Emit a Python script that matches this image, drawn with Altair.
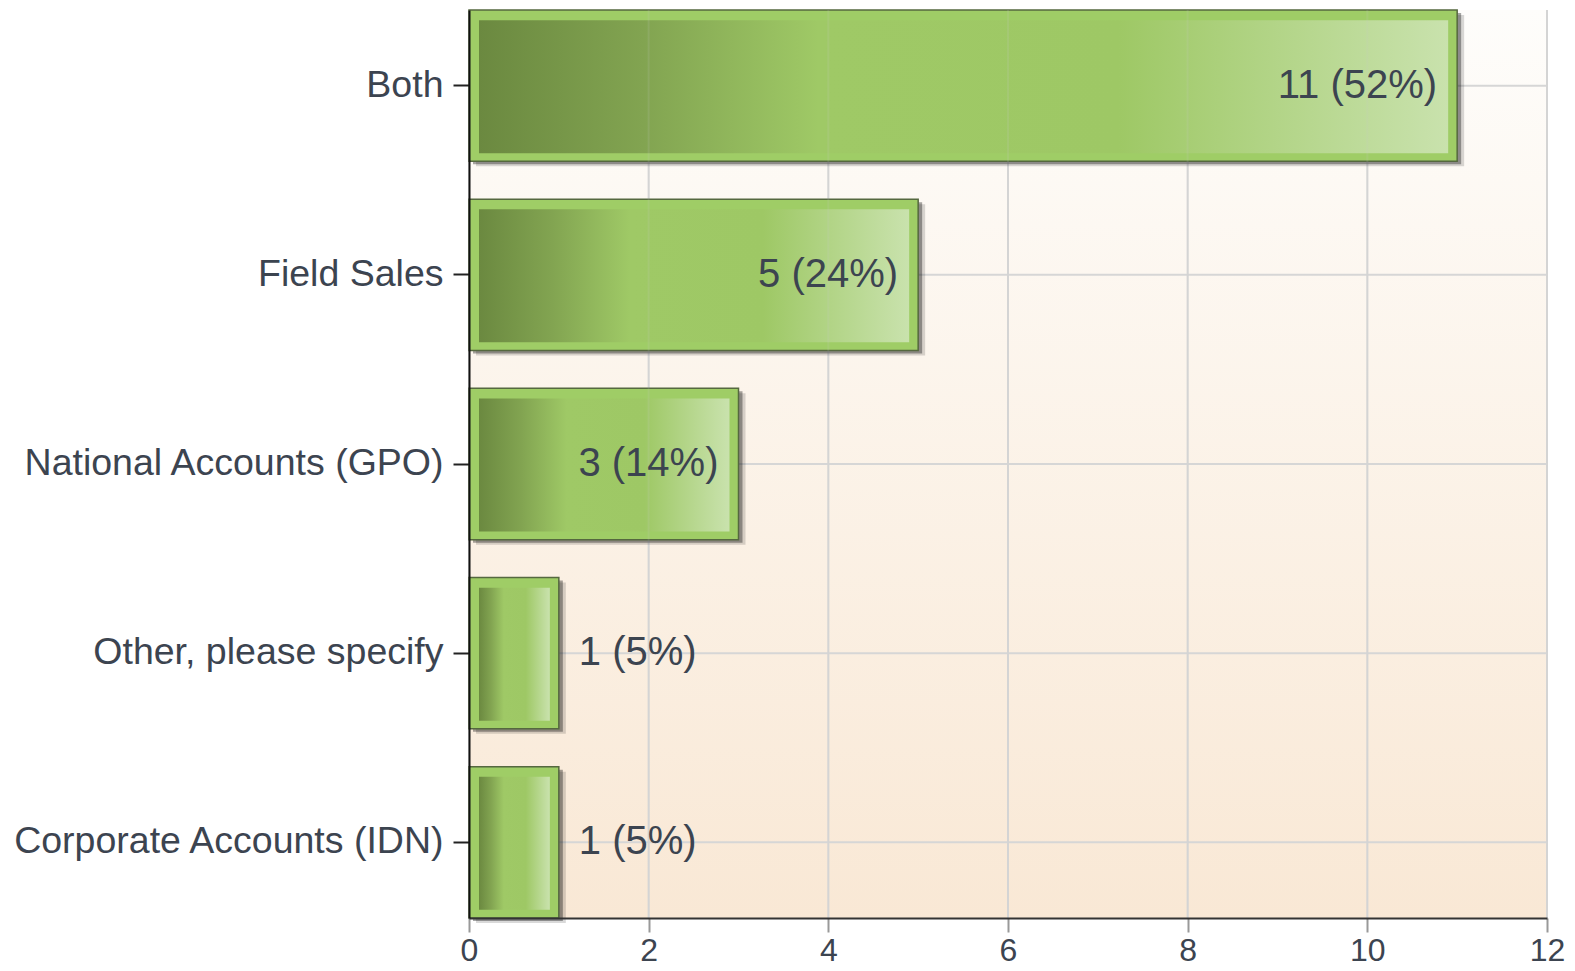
import altair as alt
import pandas as pd

categories = ["Both", "Field Sales", "National Accounts (GPO)",
              "Other, please specify", "Corporate Accounts (IDN)"]
counts = [11, 5, 3, 1, 1]
percents = [52, 24, 14, 5, 5]
x_ticks = [0, 2, 4, 6, 8, 10, 12]

W, H = 1078, 908

df = pd.DataFrame({"category": categories, "count": counts, "pct": percents})
df["base"] = 0
df["label"] = [f"{c} ({p}%)" for c, p in zip(counts, percents)]
ticks_df = pd.DataFrame({"tick": x_ticks})
bg_df = pd.DataFrame({"k": [0]})

xscale = alt.Scale(domain=[0, 12], nice=False, zero=True)
yscale = alt.Scale(domain=categories, paddingInner=0.2, paddingOuter=0)

FONT = "Liberation Sans"
TEXT = "#3c4450"

x_axis = alt.Axis(values=x_ticks, grid=False, title=None, labelFontSize=32,
                  labelFont=FONT, labelColor=TEXT, tickSize=14, tickColor="#999999",
                  tickWidth=2, domainColor="#333333", domainWidth=2, labelPadding=3,
                  labelFlush=False, zindex=1)
y_axis = alt.Axis(title=None, grid=False, labelFontSize=37.5, labelFont=FONT,
                  labelColor=TEXT, tickSize=16, tickColor="#222222", tickWidth=2,
                  domainColor="#111111", domainWidth=2, labelPadding=10, zindex=1,
                  labelLimit=0, bandPosition=0.5)

X = lambda f: alt.X(f, scale=xscale, axis=x_axis)
Y = alt.Y("category:N", scale=yscale, axis=y_axis)

bg_grad = alt.Gradient(gradient="linear", x1=0, y1=0, x2=0, y2=1,
                       stops=[alt.GradientStop(offset=0, color="#fefdfb"),
                              alt.GradientStop(offset=1, color="#f9e8d5")])
bg = alt.Chart(bg_df).mark_rect(color=bg_grad).encode(
    x=alt.value(0), x2=alt.value(W), y=alt.value(0), y2=alt.value(H))

vgrid = alt.Chart(ticks_df).mark_rule(color="#d6d6d6", strokeWidth=2).encode(x=X("tick:Q"))
hgrid = alt.Chart(df).mark_rule(color="#d6d6d6", strokeWidth=2).encode(y=Y)

sh1 = alt.Chart(df).mark_bar(color="#000000", opacity=0.15, xOffset=7, x2Offset=7,
                             yOffset=5, y2Offset=5).encode(x=X("base:Q"), x2="count:Q", y=Y)
sh2 = alt.Chart(df).mark_bar(color="#000000", opacity=0.35, xOffset=4, x2Offset=4,
                             yOffset=3, y2Offset=3).encode(x=X("base:Q"), x2="count:Q", y=Y)

outer = alt.Chart(df).mark_bar(color="#9fcd66", stroke="#55683f", strokeWidth=1.5).encode(
    x=X("base:Q"), x2="count:Q", y=Y)

bar_grad = alt.Gradient(gradient="linear", x1=0, y1=0, x2=1, y2=0,
                        stops=[alt.GradientStop(offset=0, color="#6b8940"),
                               alt.GradientStop(offset=0.17, color="#82a451"),
                               alt.GradientStop(offset=0.35, color="#9fc966"),
                               alt.GradientStop(offset=0.66, color="#9ec865"),
                               alt.GradientStop(offset=1, color="#c9e2ad")])
inner = alt.Chart(df).mark_bar(color=bar_grad, xOffset=10, x2Offset=-9, size=133,
                               yOffset=1).encode(x=X("base:Q"), x2="count:Q", y=Y)

vgrid_top = alt.Chart(ticks_df).mark_rule(color="#c8c8c8", strokeWidth=2, opacity=0.15).encode(
    x=X("tick:Q"))

txt_in = alt.Chart(df).transform_filter("datum.count >= 2").mark_text(
    align="right", baseline="middle", dx=-20, fontSize=40, font=FONT, color=TEXT).encode(
    x=X("count:Q"), y=Y, text="label:N")
txt_out = alt.Chart(df).transform_filter("datum.count < 2").mark_text(
    align="left", baseline="middle", dx=20, fontSize=40, font=FONT, color=TEXT).encode(
    x=X("count:Q"), y=Y, text="label:N")

chart = alt.layer(bg, vgrid, hgrid, sh1, sh2, outer, inner, vgrid_top, txt_in, txt_out).properties(
    width=W, height=H,
    padding={"left": 461, "top": 2, "right": 20, "bottom": 50},
    autosize=alt.AutoSizeParams(type="none"),
).configure_view(stroke=None)

chart.save("out.html", embed_options={"renderer": "svg", "actions": False})
